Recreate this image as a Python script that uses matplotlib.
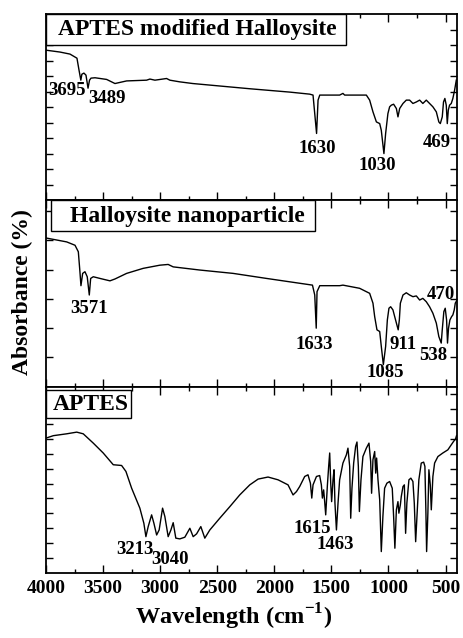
import numpy as np
import matplotlib
matplotlib.use("Agg")
from matplotlib import pyplot as plt
from matplotlib.patches import Rectangle

plt.rcParams['font.family'] = ['Liberation Serif', 'DejaVu Serif']
plt.rcParams['font.weight'] = 'bold'
plt.rcParams['mathtext.fontset'] = 'custom'
plt.rcParams['mathtext.rm'] = 'Liberation Serif'
plt.rcParams['mathtext.bf'] = 'Liberation Serif:bold'

# FTIR spectra (wavenumber in cm-1, absorbance in arbitrary panel units)
apthnt_wn = [4000, 3878, 3790, 3729, 3711, 3695, 3686, 3668, 3650, 3632, 3619, 3606, 3571,
             3469, 3396, 3367, 3294, 3119, 3090, 3046, 2944, 2915, 2828, 2714, 2215, 1865,
             1690, 1661, 1630, 1617, 1602, 1428, 1399, 1384, 1194, 1165, 1136, 1106, 1077,
             1063, 1040, 1025, 1005, 990, 975, 955, 931, 917, 902, 873, 844, 815, 786, 756,
             727, 699, 669, 640, 611, 581, 559, 546, 529, 518, 506, 494, 485, 476, 465, 450,
             436, 421, 406]
apthnt_abs = [80.6, 79.6, 78.5, 76.3, 69.9, 64.5, 67.7, 68.3, 67.2, 60.2, 64.5, 65.6, 65.8,
              64.9, 62.7, 63.1, 64.1, 64.5, 65.1, 64.5, 65.4, 64.5, 63.6, 62.7, 59.9, 58.1,
              57.0, 56.5, 35.9, 53.8, 56.5, 56.5, 57.4, 56.5, 56.5, 53.8, 47.5, 42.1, 41.2,
              37.6, 25.1, 35.9, 46.6, 50.2, 51.1, 51.6, 49.3, 44.8, 49.3, 52.0, 53.8, 53.8, 52.0, 52.8,
              53.8, 52.0, 53.8, 52.0, 50.2, 47.5, 42.1, 41.2, 44.8, 52.8, 54.7, 51.1, 41.2, 48.4, 51.1, 52.0,
              54.7, 59.1, 64.5]

hnt_wn = [4000, 3819, 3746, 3717, 3703, 3694, 3679, 3659, 3639, 3621, 3609, 3586, 3528,
          3440, 3396, 3294, 3149, 3003, 2930, 2886, 2653, 2361, 2069, 1778, 1666, 1646,
          1633, 1626, 1602, 1428, 1399, 1253, 1165, 1136, 1121, 1101, 1077, 1063, 1045,
          1025, 1010, 996, 981, 961, 938, 915, 905, 896, 873, 844, 815, 786, 756, 727,
          699, 669, 640, 611, 581, 559, 538, 529, 515, 503, 491, 483, 474, 462, 447,
          436, 424, 415, 404]
hnt_abs = [79.8, 77.7, 75.9, 72.4, 61.7, 54.2, 60.8, 61.7, 59.0, 49.2, 58.1, 59.0, 58.1,
           56.8, 57.8, 60.8, 63.5, 65.2, 65.6, 64.3, 62.6, 60.8, 58.1, 55.5, 54.5, 49.2,
           31.4, 51.0, 54.2, 54.2, 54.5, 52.8, 50.1, 44.8, 37.6, 30.5, 29.6, 21.6, 11.8,
           21.6, 35.8, 42.1, 42.9, 41.2, 35.8, 30.5, 35.8, 44.8, 49.2, 50.4, 49.2, 48.3, 48.7, 46.5,
           47.4, 45.6, 42.9, 39.4, 34.1, 26.9, 23.4, 30.5, 40.3, 42.1, 35.8, 23.4, 31.4, 35.8, 37.6,
           38.5, 41.2, 44.8, 46.0]

aptes_wn = [4000, 3936, 3819, 3731, 3674, 3586, 3499, 3411, 3338, 3300, 3250, 3178, 3143,
            3125, 3105, 3075, 3055, 3031, 3009, 2979, 2959, 2930, 2906, 2886, 2863, 2828,
            2784, 2740, 2711, 2681, 2644, 2609, 2565, 2478, 2390, 2303, 2215, 2142, 2055,
            1967, 1880, 1850, 1836, 1806, 1778, 1734, 1705, 1684, 1672, 1661, 1631, 1603,
            1588, 1579, 1568, 1559, 1550, 1535, 1524, 1515, 1506, 1498, 1486, 1477, 1469,
            1456, 1442, 1428, 1399, 1369, 1355, 1340, 1331, 1320, 1305, 1288, 1276, 1264,
            1255, 1241, 1224, 1194, 1171, 1156, 1148, 1136, 1121, 1112, 1104, 1092, 1077,
            1063, 1049, 1034, 1014, 990, 967, 955, 944, 931, 917, 909, 896, 888, 873, 861,
            850, 839, 821, 804, 786, 774, 762, 751, 734, 713, 692, 681, 672, 666, 655, 646,
            634, 625, 611, 596, 567, 524, 480, 450, 430, 413, 404]
aptes_abs = [72.4, 73.7, 74.7, 75.6, 74.7, 69.7, 64.4, 58.1, 57.7, 54.5, 45.5, 34.8, 26.7,
             19.5, 24.9, 31.2, 26.7, 20.4, 23.1, 34.8, 30.3, 19.5, 23.1, 27.0, 18.7, 18.3,
             19.2, 24.0, 19.5, 21.0, 24.9, 18.7, 23.1, 29.4, 35.6, 41.9, 47.3, 50.4, 51.5,
             50.0, 47.3, 43.7, 41.9, 43.7, 46.4, 51.8, 52.7, 48.2, 40.2, 47.3, 51.8, 52.3,
             47.3, 40.2, 44.6, 38.3, 31.2, 47.3, 57.2, 64.4, 48.2, 38.3, 50.0, 55.4, 37.5,
             23.1, 37.5, 50.0, 59.0, 63.4, 67.0, 57.2, 29.4, 45.5, 59.0, 67.9, 70.3, 57.2,
             33.0, 50.0, 62.5, 67.0, 69.7, 59.8, 42.8, 60.8, 65.2, 53.6, 61.7, 50.0, 39.2,
             11.5, 30.3, 45.5, 48.2, 49.1, 45.5, 30.3, 13.3, 33.9, 38.3, 32.1, 36.6, 41.0, 46.4, 47.3,
             21.3, 37.5, 50.0, 50.9, 49.1, 37.5, 16.8, 30.3, 50.0, 59.0, 59.5, 57.2, 32.1, 11.5, 32.1, 55.4,
             47.3, 33.9, 51.8, 59.0, 62.5, 64.4, 66.1, 68.8, 70.6, 71.9, 73.7]

titles = ['APTES modified Halloysite', 'Halloysite nanoparticle', 'APTES']

peaks_apthnt = ['3695', '3489', '1630', '1030', '469']
peaks_hnt = ['3571', '1633', '1085', '911', '538', '470']
peaks_aptes = ['3213', '3040', '1615', '1463']

fig = plt.figure(figsize=(4.63, 6.38), dpi=100)
gs = fig.add_gridspec(3, 1, left=0.0994, right=0.987, bottom=0.1019, top=0.978, hspace=0)
axes = [fig.add_subplot(gs[i]) for i in range(3)]

series = [(apthnt_wn, apthnt_abs), (hnt_wn, hnt_abs), (aptes_wn, aptes_abs)]
tick_step = [100 / 12, 15.7, 8.0]
# title box: x0, width, top, height (axes fraction), text x, text y
boxes = [(0.0, 0.730, 1.0, 0.167, 0.368, 0.915),
         (0.012, 0.642, 1.0, 0.166, 0.343, 0.913),
         (0.0, 0.207, 0.984, 0.151, 0.108, 0.903)]
# peak label placement (wavenumber, y) for each panel
label_pos = [[(3816, 59.1), (3466, 54.8), (1620, 28.0), (1095, 18.8), (579, 31.2)],
             [(3624, 42.2), (1646, 22.5), (1025, 7.5), (876, 22.5), (605, 16.6), (544, 49.7)],
             [(3221, 12.4), (2915, 7.0), (1664, 23.7), (1463, 15.1)]]
peak_labels = [peaks_apthnt, peaks_hnt, peaks_aptes]

for i, ax in enumerate(axes):
    wn, ab = series[i]
    ax.plot(wn, ab, color='black', lw=1.0)
    ax.set_xlim(4000, 400)
    ax.set_ylim(0, 100)
    ax.set_xticks([4000, 3500, 3000, 2500, 2000, 1500, 1000, 500])
    ax.set_xticks(np.arange(3750, 400, -500), minor=True)
    ax.set_yticks(np.arange(tick_step[i], 100, tick_step[i]))
    ax.tick_params(which='both', direction='in', top=True, right=True, width=1.0)
    ax.tick_params(which='major', length=5)
    ax.tick_params(which='minor', length=3)
    ax.tick_params(axis='x', which='major', length=6)
    ax.set_yticklabels([])
    for s in ax.spines.values():
        s.set_linewidth(1.3)
    x0, w, top, h, tx, ty = boxes[i]
    ax.add_patch(Rectangle((x0, top - h), w, h, transform=ax.transAxes,
                           facecolor='white', edgecolor='black', lw=1.0, zorder=3))
    ax.text(tx, ty, titles[i], transform=ax.transAxes, ha='center', va='center',
            fontsize=17, fontweight='bold', zorder=4)
    for lab, (x, y) in zip(peak_labels[i], label_pos[i]):
        ax.text(x, y, lab, ha='center', va='center', fontsize=13.5, fontweight='bold')
    if i < 2:
        ax.tick_params(axis='x', labelbottom=False)

axes[2].tick_params(axis='x', labelsize=14, pad=5)
for t in axes[2].get_xticklabels():
    t.set_fontweight('bold')
fig.text(0.505, 0.033, 'Wavelength (cm$^{\\mathbf{-1}}$)', ha='center', va='center',
         fontsize=17.5, fontweight='bold')
fig.text(0.048, 0.543, 'Absorbance (%)', rotation=90, ha='center', va='center',
         fontsize=17, fontweight='bold')

fig.savefig('out.png', dpi=100)
